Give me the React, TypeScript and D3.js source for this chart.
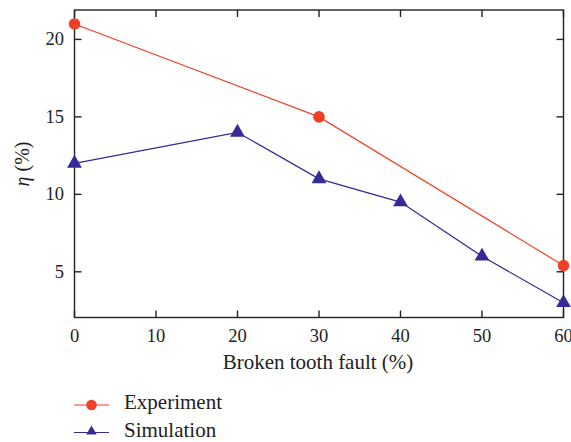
import React from "react";
import * as d3 from "d3";

const xTicks = [0, 10, 20, 30, 40, 50, 60];
const yTicks = [5, 10, 15, 20];
const expX = [0, 30, 60];
const expY = [21, 15, 5.4];
const simX = [0, 20, 30, 40, 50, 60];
const simY = [12, 14, 11, 9.5, 6, 3];
const xLabel = "Broken tooth fault (%)";
const legendLabels = ["Experiment", "Simulation"];

const RED = "#ef4129";
const BLUE = "#352a96";
const FONT = "'Liberation Serif', 'DejaVu Serif', serif";

export default function App() {
  const W = 571, H = 442;
  const left = 74.5, right = 563.5, top = 10, bottom = 317.5;
  const x = d3.scaleLinear().domain([0, 60]).range([left, right]);
  const y = d3.scaleLinear().domain([2.05, 21.9]).range([bottom, top]);
  const line = d3.line<[number, number]>().x(d => x(d[0])).y(d => y(d[1]));
  const expPts: [number, number][] = expX.map((v, i) => [v, expY[i]]);
  const simPts: [number, number][] = simX.map((v, i) => [v, simY[i]]);
  const tri = d3.symbol().type(d3.symbolTriangle).size(95)();
  const tl = 7;
  return (
    <svg width={W} height={H} style={{ position: "absolute", left: 0, top: 0 }} fontFamily={FONT}>
      <rect x={0} y={0} width={W} height={H} fill="#fff" />
      <rect x={left} y={top} width={right - left} height={bottom - top} fill="none" stroke="#222" strokeWidth={1.4} />
      {xTicks.map(t => (
        <g key={"x" + t}>
          <line x1={x(t)} x2={x(t)} y1={bottom} y2={bottom - tl} stroke="#222" strokeWidth={1.4} />
          <line x1={x(t)} x2={x(t)} y1={top} y2={top + tl} stroke="#222" strokeWidth={1.4} />
          <text x={x(t)} y={342} textAnchor="middle" fontSize={18.5} fill="#222">{t}</text>
        </g>
      ))}
      {yTicks.map(t => (
        <g key={"y" + t}>
          <line x1={left} x2={left + tl} y1={y(t)} y2={y(t)} stroke="#222" strokeWidth={1.4} />
          <line x1={right} x2={right - tl} y1={y(t)} y2={y(t)} stroke="#222" strokeWidth={1.4} />
          <text x={64} y={y(t) + 5.8} textAnchor="end" fontSize={18.5} fill="#222">{t}</text>
        </g>
      ))}
      <text x={318} y={369} textAnchor="middle" fontSize={21} fill="#222">{xLabel}</text>
      <text transform={`translate(29,164) rotate(-90)`} textAnchor="middle" fontSize={20} fill="#222">
        <tspan fontStyle="italic">η</tspan> (%)
      </text>
      <path d={line(expPts) || ""} fill="none" stroke={RED} strokeWidth={1.2} />
      <path d={line(simPts) || ""} fill="none" stroke={BLUE} strokeWidth={1.2} />
      {expPts.map((p, i) => (
        <circle key={"e" + i} cx={x(p[0])} cy={y(p[1])} r={5.8} fill={RED} />
      ))}
      {simPts.map((p, i) => (
        <path key={"s" + i} d={tri || ""} transform={`translate(${x(p[0])},${y(p[1])})`} fill={BLUE} />
      ))}
      <g>
        <line x1={74} x2={109} y1={405} y2={405} stroke={RED} strokeWidth={1.2} />
        <circle cx={91.5} cy={405} r={5.3} fill={RED} />
        <text x={124} y={409} fontSize={21} fill="#222">{legendLabels[0]}</text>
        <line x1={74} x2={109} y1={432.5} y2={432.5} stroke={BLUE} strokeWidth={1.2} />
        <path d={d3.symbol().type(d3.symbolTriangle).size(48)() || ""} transform="translate(91.5,431.5)" fill={BLUE} />
        <text x={124} y={436.5} fontSize={21} fill="#222">{legendLabels[1]}</text>
      </g>
    </svg>
  );
}
